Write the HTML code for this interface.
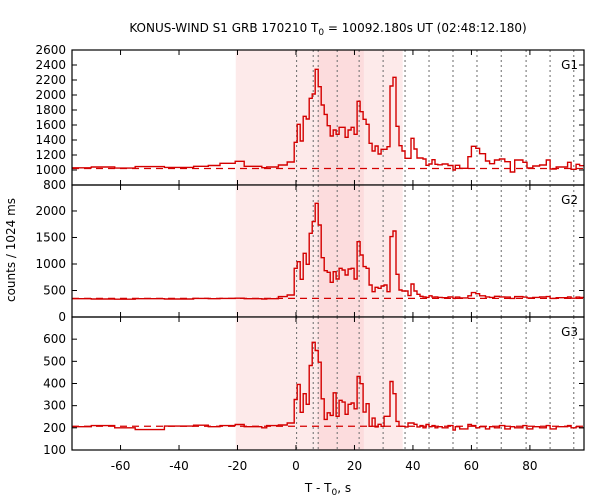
<!DOCTYPE html>
<html><head><meta charset="utf-8">
<style>
body{margin:0;background:#fff;}
svg{display:block;font-family:"DejaVu Sans","Liberation Sans",sans-serif;}
</style></head>
<body>
<svg id="chart" width="600" height="500" viewBox="0 0 600 500">
<text x="328" y="32" text-anchor="middle" font-size="12">KONUS-WIND S1 GRB 170210 T<tspan font-size="9" dy="3">0</tspan><tspan dy="-3"> = 10092.180s UT (02:48:12.180)</tspan></text>
<text transform="translate(15,250) rotate(-90)" text-anchor="middle" font-size="12">counts / 1024 ms</text>
<text x="328" y="492" text-anchor="middle" font-size="12">T - T<tspan font-size="9" dy="3">0</tspan><tspan dy="-3">, s</tspan></text>
<g id="plots"></g>
</svg>
<script>
// ---- data ----
const preStarts=[-77,-70,-62,-55,-45,-35,-30,-26,-20.8,-17.7,-11.7,-10,-6,-3];
const burstStart=-0.6, burstBin=1.024, burstCount=48;
const postStarts=[48.5,50,52,53.7,54.5,56,58.8,60,61.5,62.8,64.8,66.2,67.9,69.6,71.4,73.3,74.8,77.6,79,81,83.3,85.6,86.9,89,92.9,94.1,95.8,97];
const endTime=98.6;
const g1Pre=[1030,1040,1025,1045,1035,1050,1060,1089,1116,1049,1031,1040,1067,1107];
const g1Burst=[1369,1609,1387,1716,1680,1956,2013,2342,2111,1867,1742,1591,1453,1533,1476,1569,1569,1436,1533,1569,1476,1916,1778,1676,1609,1356,1253,1320,1213,1276,1276,1311,2120,2236,1582,1324,1253,1156,1156,1422,1280,1160,1160,1147,1062,1080,1138,1076];
const g1Post=[1070,1080,1060,1000,1062,1022,1178,1316,1289,1218,1120,1084,1133,1147,1111,973,1133,1102,1027,1053,1067,1133,1013,1040,1102,1009,1076,1058];
const g2Pre=[345,340,335,345,340,350,345,350,355,345,340,345,384,415];
const g2Burst=[918,1044,711,1201,994,1579,1799,2145,1736,1119,874,843,654,855,717,918,887,792,906,918,717,1421,1170,950,918,604,478,560,541,585,604,478,1516,1623,805,509,491,491,403,623,491,428,390,380,370,400,375,380];
const g2Post=[370,365,380,350,375,360,400,460,440,400,380,370,390,380,375,350,385,375,360,370,380,385,350,365,380,355,375,370];
const g3Pre=[205,210,200,192,208,212,205,210,215,205,200,210,213,222];
const g3Burst=[328,396,270,354,306,481,586,549,496,331,238,268,256,358,252,324,316,261,306,312,286,432,399,271,309,207,244,204,216,207,252,252,409,354,229,207,207,204,222,222,216,204,210,200,215,205,210,200];
const g3Post=[205,200,210,190,205,195,215,210,200,205,195,205,200,210,195,205,200,210,195,205,200,210,195,205,210,200,205,200];
const bgLevels=[1020,352,207];
const xTicks=[-60,-40,-20,0,20,40,60,80];
const g1Ticks=[800,1000,1200,1400,1600,1800,2000,2200,2400,2600];
const g2Ticks=[0,500,1000,1500,2000];
const g3Ticks=[100,200,300,400,500,600];
const dottedTimes=[0.2,5.9,7.6,14.1,21.6,29.8,37.3,45.5,53.7,61.9,70.2,78.7,86.9,95.0];
const lightBand=[-20.6,36.5];
const darkBand=[7.5,23.2];

// ---- layout ----
const X0=72,X1=584,T0=-76.6,T1=98.5;
const xs=t=>X0+(t-T0)/(T1-T0)*(X1-X0);
const panels=[
 {name:'g1',label:'G1',top:50,bot:185,min:800,max:2600,ticks:g1Ticks,pre:g1Pre,burst:g1Burst,post:g1Post,bg:bgLevels[0]},
 {name:'g2',label:'G2',top:185,bot:317,min:0,max:2490,ticks:g2Ticks,pre:g2Pre,burst:g2Burst,post:g2Post,bg:bgLevels[1]},
 {name:'g3',label:'G3',top:317,bot:450,min:100,max:700,ticks:g3Ticks,pre:g3Pre,burst:g3Burst,post:g3Post,bg:bgLevels[2]}
];
const NS='http://www.w3.org/2000/svg';
const root=document.getElementById('plots');
function mk(tag,attrs,parent){const e=document.createElementNS(NS,tag);for(const k in attrs)e.setAttribute(k,attrs[k]);(parent||root).appendChild(e);return e;}

const starts=[...preStarts];
for(let i=0;i<burstCount;i++)starts.push(burstStart+burstBin*i);
starts.push(...postStarts);

panels.forEach(p=>{
  const ys=v=>p.bot-(v-p.min)/(p.max-p.min)*(p.bot-p.top);
  const g=mk('g',{});
  
  
  const lb=mk('rect',{x:xs(lightBand[0]),y:p.top,width:xs(lightBand[1])-xs(lightBand[0]),height:p.bot-p.top,fill:'#fdeaea'},g);
  
  
  const db=mk('rect',{x:xs(darkBand[0]),y:p.top,width:xs(darkBand[1])-xs(darkBand[0]),height:p.bot-p.top,fill:'#fcdcdd'},g);
  
  
  dottedTimes.forEach(t=>{
    const l=mk('line',{x1:xs(t),x2:xs(t),y1:p.top,y2:p.bot,stroke:'#777','stroke-width':1.1,'stroke-dasharray':'2,3'},g);
    
    
  });
  const bl=mk('line',{x1:X0,x2:X1,y1:ys(p.bg),y2:ys(p.bg),stroke:'#d40000','stroke-width':1.3,'stroke-dasharray':'7,5'},g);
  
  
  const vals=[...p.pre,...p.burst,...p.post];
  let d='';
  for(let i=0;i<vals.length;i++){
    const a=Math.max(starts[i],T0), b=(i+1<starts.length?starts[i+1]:endTime);
    const y=ys(vals[i]);
    d+=(i===0?'M':'L')+xs(a).toFixed(1)+','+y.toFixed(1)+'L'+Math.min(xs(b),X1).toFixed(1)+','+y.toFixed(1);
  }
  const ln=mk('path',{d:d,fill:'none',stroke:'#d40000','stroke-width':1.4},g);
  
  
  const fr=mk('rect',{x:X0,y:p.top,width:X1-X0,height:p.bot-p.top,fill:'none',stroke:'#000','stroke-width':1.2},g);
  
  
  p.ticks.forEach(v=>{
    const y=ys(v);
    mk('line',{x1:X0,x2:X0+5,y1:y,y2:y,stroke:'#000'},g);
    mk('line',{x1:X1-5,x2:X1,y1:y,y2:y,stroke:'#000'},g);
    const t=mk('text',{x:X0-6,y:y+4,'text-anchor':'end','font-size':12},g);
    t.textContent=v;
    
    
  });
  xTicks.forEach(v=>{
    const x=xs(v);
    mk('line',{x1:x,x2:x,y1:p.top,y2:p.top+5,stroke:'#000'},g);
    mk('line',{x1:x,x2:x,y1:p.bot-5,y2:p.bot,stroke:'#000'},g);
  });
  const pl=mk('text',{x:X1-6,y:p.top+19,'text-anchor':'end','font-size':12},g);
  pl.textContent=p.label;
  
  
});
xTicks.forEach(v=>{
  const t=mk('text',{x:xs(v),y:470,'text-anchor':'middle','font-size':12});
  t.textContent=v;
  
  
});
</script>
</body></html>
